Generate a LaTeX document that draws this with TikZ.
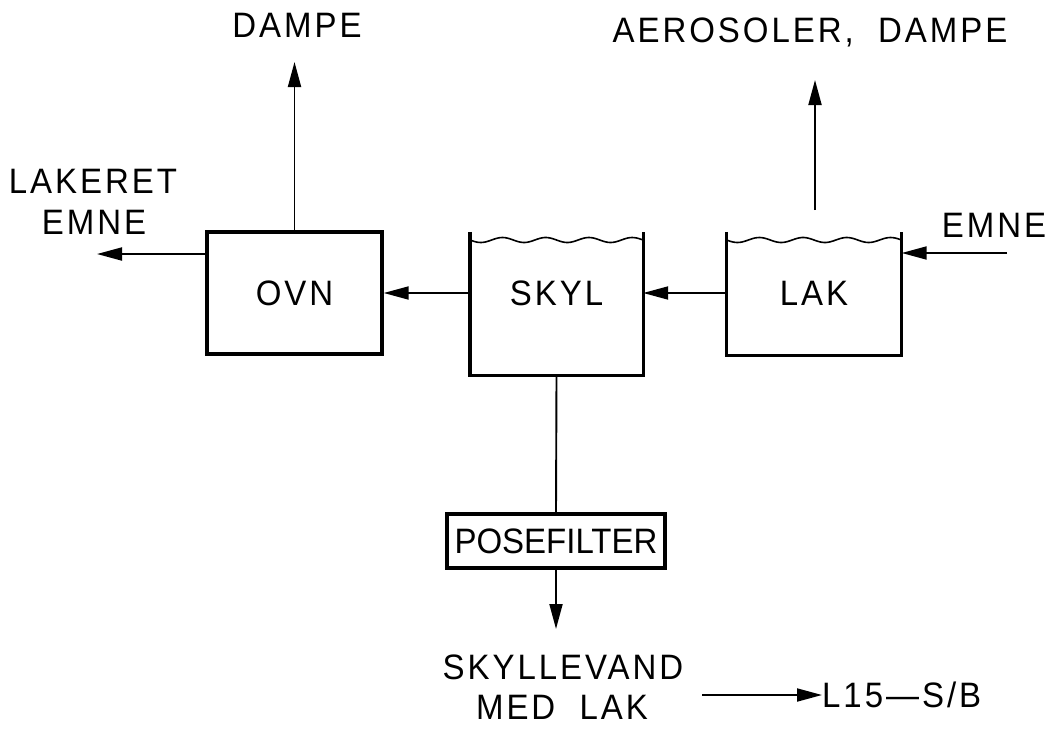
\documentclass[tikz,border=0pt]{standalone}
\usepackage{fontspec}
\usepackage{graphicx}
\setmainfont{Liberation Sans}
\newfontfamily\lettering[LetterSpace=9]{Liberation Sans}
\usetikzlibrary{arrows.meta}
\newcommand{\tl}[1]{\scalebox{1}[1.07]{#1}}
\begin{document}
\begin{tikzpicture}[x=1pt,y=-1pt,
  lbl/.style={font=\lettering\fontsize{33}{36}\selectfont, inner sep=0pt, align=center},
  boxw/.style={draw, line width=3.4pt, inner sep=0pt},
  tankw/.style={line width=3.4pt},
  flow/.style={line width=1.9pt, -{Triangle[length=25pt,width=13pt]}},
  plain/.style={line width=1.9pt}]
\useasboundingbox (0,0) rectangle (1059,731);
% OVN box
\node[boxw, minimum width=175pt, minimum height=122pt, lbl] (ovn) at (294.5,293) {\tl{OVN}};
% SKYL tank
\node[minimum width=173pt, minimum height=143pt, inner sep=0pt] (skyl) at (556.5,303.5) {};
\node[lbl] (skyltxt) at (556.5,293) {\tl{SKYL}};
\draw[tankw] (skyl.north west) -- (skyl.south west) -- (skyl.south east) -- (skyl.north east);
\draw[line width=1.6pt] plot[domain=470:643, samples=80] (\x, {240+2.5*sin((\x-470)/173*4*360)});
% LAK tank
\node[minimum width=175pt, minimum height=123pt, inner sep=0pt] (lak) at (814,293.5) {};
\node[lbl] (laktxt) at (814,293) {\tl{LAK}};
\draw[tankw] (lak.north west) -- (lak.south west) -- (lak.south east) -- (lak.north east);
\draw[line width=1.6pt] plot[domain=726.5:901.5, samples=80] (\x, {240+2.5*sin((\x-726.5)/175*4*360)});
% POSEFILTER
\node[boxw, minimum width=218pt, minimum height=54pt, lbl, font=\normalfont\fontsize{33}{36}\selectfont] (pose) at (556,541) {\tl{POSEFILTER}};
% texts
\node[lbl] (dampe) at (297,25) {\tl{DAMPE}};
\node[lbl] (aero) at (810,32) {\tl{AEROSOLER,\ \ DAMPE}};
\node[lbl] (lakeret) at (93,181) {\tl{LAKERET}};
\node[lbl] (emneout) at (94,222) {\tl{EMNE}};
\node[lbl] (emnein) at (994,225) {\tl{EMNE}};
\node[lbl] (skyllevand) at (563,667.5) {\tl{SKYLLEVAND}};
\node[lbl] (medlak) at (562,707.5) {\tl{MED\ \ LAK}};
\node[lbl, anchor=west] (l15) at (822,695) {\tl{L15—S/B}};
% coordinates
\coordinate (ovnout) at (97,254);
\coordinate (dampeend) at (ovn.north |- 0,62);
\coordinate (aerostart) at (815,210);
\coordinate (aeroend) at (815,80);
\coordinate (emnestart) at (1007,253);
\coordinate (poseend) at (556,629);
\coordinate (l15start) at (702,695);
% connectors
\draw[flow] (ovn.west |- ovnout) -- (ovnout);
\draw[flow] (ovn.north) -- (dampeend);
\draw[flow] (skyl.west |- ovn.east) -- (ovn.east);
\draw[flow] (lak.west |- 0,293) -- (skyl.east |- 0,293);
\draw[flow] (emnestart) -- (lak.east |- emnestart);
\draw[flow] (aerostart) -- (aeroend);
\draw[plain] (skyl.south) -- (pose.north);
\draw[flow] (pose.south) -- (poseend);
\draw[flow] (l15start) -- (l15.west);
\end{tikzpicture}
\end{document}
